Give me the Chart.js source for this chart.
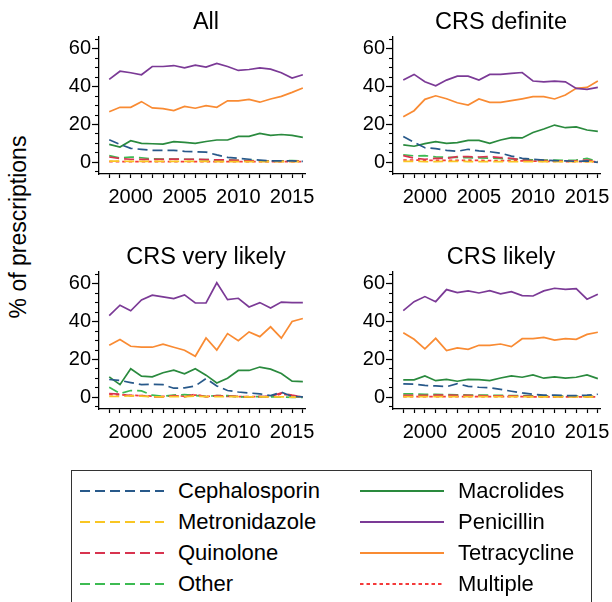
<!DOCTYPE html>
<html>
<head>
<meta charset="utf-8">
<script src="https://cdn.jsdelivr.net/npm/chart.js@4.4.1/dist/chart.umd.min.js"></script>
<style>
  html, body { margin: 0; padding: 0; background: #fff; }
  body { width: 612px; height: 602px; position: relative; overflow: hidden; font-family: "Liberation Sans", Arial, sans-serif; color: #000; }
  canvas.panel { position: absolute; }
  #ytitle { position: absolute; left: 17.5px; top: 226.5px; transform: translate(-50%, -50%) rotate(-90deg); font-size: 23px; white-space: nowrap; }
  #legend-box { position: absolute; left: 71px; top: 470px; width: 521px; height: 150px; border: 1.5px solid #333; box-sizing: border-box; }
  .leg-line { position: absolute; }
  .leg-text { position: absolute; font-size: 22px; line-height: 26px; white-space: nowrap; }
</style>
</head>
<body>
<canvas id="p-all" class="panel" width="332" height="235" style="left:40px;top:0px"></canvas>
<canvas id="p-definite" class="panel" width="334" height="235" style="left:334px;top:0px"></canvas>
<canvas id="p-vlikely" class="panel" width="332" height="235" style="left:40px;top:235px"></canvas>
<canvas id="p-likely" class="panel" width="334" height="235" style="left:334px;top:235px"></canvas>
<div id="ytitle">% of prescriptions</div>
<div id="legend-box"></div>
<div id="legend"></div>

<script>
// ---- data ----
const years = [1998, 1999, 2000, 2001, 2002, 2003, 2004, 2005, 2006, 2007, 2008, 2009, 2010, 2011, 2012, 2013, 2014, 2015, 2016];

const seriesNames = ['Cephalosporin', 'Metronidazole', 'Quinolone', 'Other', 'Macrolides', 'Penicillin', 'Tetracycline', 'Multiple'];
const seriesColors = ['#28598a', '#f9c623', '#d8344f', '#3dbb52', '#2a8a3e', '#7b3a96', '#f98b33', '#f43a3a'];
const seriesDash = [[10, 5], [10, 5], [10, 5], [10, 5], [], [], [], [3.5, 3]];

const panelTitles = ['All', 'CRS definite', 'CRS very likely', 'CRS likely'];
const yTicks = [0, 20, 40, 60];

// All
const allCeph  = [11.9, 9.5, 7.4, 6.8, 6.3, 6.3, 6.3, 5.8, 5.6, 5.4, 3.9, 2.6, 2.1, 1.6, 1.1, 0.7, 0.7, 0.7, 0.5];
const allMetro = [0.6, 0.6, 0.5, 0.5, 0.5, 0.5, 0.5, 0.5, 0.5, 0.5, 0.4, 0.4, 0.4, 0.3, 0.3, 0.3, 0.3, 0.3, 0.3];
const allQuin  = [2.8, 2.0, 1.6, 1.5, 1.5, 1.6, 1.7, 1.6, 1.6, 1.4, 1.3, 1.2, 1.0, 0.8, 0.6, 0.5, 0.5, 0.5, 0.6];
const allOther = [3.5, 2.3, 2.8, 2.4, 1.8, 1.7, 1.7, 1.6, 1.5, 1.4, 1.3, 1.2, 1.0, 0.9, 0.8, 0.7, 0.8, 0.9, 0.7];
const allMacro = [9.5, 8.1, 11.4, 10.0, 9.8, 9.6, 10.9, 10.5, 10.0, 11.0, 11.8, 11.8, 13.7, 13.7, 15.3, 14.2, 14.7, 14.2, 13.2];
const allPen   = [43.9, 48.2, 47.4, 46.3, 50.7, 50.7, 51.2, 50.0, 51.4, 50.4, 52.3, 50.7, 48.6, 49.1, 50.0, 49.3, 47.4, 44.6, 46.3];
const allTet   = [26.7, 29.1, 29.1, 32.1, 28.8, 28.4, 27.4, 29.6, 28.6, 30.0, 29.1, 32.5, 32.5, 33.3, 31.8, 33.5, 34.9, 37.0, 39.3];
const allMult  = [0.4, 0.4, 0.4, 0.4, 0.4, 0.4, 0.4, 0.4, 0.4, 0.4, 0.3, 0.3, 0.3, 0.3, 0.3, 0.3, 0.3, 0.3, 0.3];

// CRS definite
const defCeph  = [13.7, 10.6, 7.7, 7.2, 6.3, 5.8, 6.9, 6.0, 5.6, 4.8, 3.3, 2.1, 1.6, 1.2, 0.9, 0.7, 0.5, 0.7, 0.0];
const defMetro = [0.5, 0.5, 0.4, 0.4, 0.5, 0.5, 0.4, 0.4, 0.4, 0.4, 0.4, 0.3, 0.3, 0.3, 0.3, 0.3, 0.3, 0.3, 0.3];
const defQuin  = [3.5, 2.2, 1.6, 2.1, 2.1, 3.0, 3.0, 2.8, 3.0, 2.5, 2.1, 1.1, 0.9, 0.9, 0.8, 0.8, 0.9, 1.2, 0.2];
const defOther = [4.0, 3.4, 3.5, 2.9, 2.6, 2.6, 2.4, 2.3, 2.2, 2.0, 1.8, 1.5, 1.3, 1.2, 1.1, 1.0, 1.1, 2.1, 0.4];
const defMacro = [9.2, 8.5, 9.9, 10.9, 10.0, 10.4, 11.6, 11.6, 10.0, 11.8, 13.0, 12.9, 15.8, 17.6, 19.7, 18.3, 18.7, 17.1, 16.4];
const defPen   = [43.5, 46.5, 42.6, 40.5, 43.5, 45.6, 45.6, 43.5, 46.5, 46.5, 47.0, 47.5, 43.0, 42.6, 43.0, 42.6, 39.1, 38.6, 39.6];
const defTet   = [24.1, 27.3, 33.3, 35.2, 33.6, 31.5, 30.3, 33.5, 31.7, 31.7, 32.6, 33.6, 34.7, 34.7, 33.5, 35.6, 39.1, 39.6, 43.0];
const defMult  = [1.2, 1.2, 1.0, 1.0, 1.0, 1.0, 1.1, 1.0, 0.9, 0.9, 0.8, 0.7, 0.6, 0.5, 0.5, 0.4, 0.4, 0.4, 0.3];

// CRS very likely
const vlCeph  = [9.4, 8.9, 7.8, 6.7, 6.9, 6.7, 4.8, 5.0, 6.0, 9.9, 6.0, 3.6, 2.8, 2.3, 1.8, 0.9, 2.7, 0.4, 0.2];
const vlMetro = [0.5, 0.4, 0.8, 0.6, 0.3, 0.2, 0.4, 0.3, 0.6, 0.3, 0.4, 0.3, 0.3, 0.2, 0.2, 0.2, 0.2, 0.1, 0.1];
const vlQuin  = [2.0, 1.6, 0.9, 0.9, 0.2, 0.2, 0.9, 0.2, 1.6, 0.2, 0.9, 0.7, 0.5, 0.2, 0.4, 0.5, 2.3, 1.1, 0.2];
const vlOther = [5.3, 2.0, 3.6, 3.4, 1.1, 0.5, 1.2, 1.4, 0.9, 0.5, 0.9, 0.9, 0.2, 0.2, 0.4, 0.2, 0.2, 0.0, 0.0];
const vlMacro = [10.8, 6.7, 15.1, 11.2, 10.8, 13.0, 14.4, 12.4, 15.1, 11.7, 7.6, 10.1, 14.2, 14.2, 16.0, 14.9, 12.6, 8.5, 8.3];
const vlPen   = [43.2, 48.7, 45.8, 51.5, 54.0, 53.1, 52.2, 54.2, 49.9, 49.9, 60.6, 51.7, 52.4, 47.8, 50.1, 47.2, 50.4, 50.1, 50.1];
const vlTet   = [27.5, 30.6, 27.0, 26.5, 26.5, 28.1, 26.5, 24.9, 21.7, 31.4, 25.0, 33.7, 30.0, 34.6, 32.1, 37.3, 31.3, 40.1, 41.7];
const vlMult  = [1.5, 1.3, 1.0, 0.9, 0.6, 0.5, 0.8, 0.6, 1.2, 0.5, 0.6, 0.5, 0.4, 0.3, 0.3, 0.3, 1.8, 0.8, 0.2];

// CRS likely
const lkCeph  = [7.1, 6.9, 6.3, 6.0, 5.6, 7.2, 5.8, 5.3, 5.1, 4.2, 3.2, 2.3, 1.6, 1.1, 1.1, 0.9, 0.9, 1.1, 1.6];
const lkMetro = [0.3, 0.3, 0.3, 0.3, 0.3, 0.3, 0.3, 0.3, 0.3, 0.3, 0.3, 0.3, 0.2, 0.2, 0.2, 0.2, 0.2, 0.2, 0.2];
const lkQuin  = [1.0, 1.0, 1.0, 1.1, 1.2, 1.0, 1.0, 0.9, 0.8, 0.8, 0.7, 0.6, 0.5, 0.5, 0.4, 0.4, 0.4, 0.5, 0.3];
const lkOther = [1.8, 1.8, 1.6, 1.6, 1.4, 1.3, 1.2, 1.1, 1.1, 1.0, 0.9, 0.9, 0.8, 0.7, 0.7, 0.6, 0.6, 0.5, 0.5];
const lkMacro = [9.2, 9.2, 11.3, 8.8, 9.5, 8.5, 9.5, 9.3, 8.8, 10.2, 11.3, 10.6, 11.8, 10.1, 10.8, 10.1, 10.6, 11.8, 9.9];
const lkPen   = [45.9, 50.6, 53.3, 50.6, 57.0, 55.4, 56.3, 55.2, 56.4, 54.7, 55.9, 53.8, 53.6, 56.3, 57.7, 57.1, 57.5, 51.9, 54.5];
const lkTet   = [34.2, 30.7, 25.6, 31.2, 24.7, 26.1, 25.4, 27.5, 27.5, 28.2, 26.8, 31.0, 31.0, 31.7, 30.3, 31.0, 30.7, 33.3, 34.4];
const lkMult  = [0.3, 0.3, 0.3, 0.3, 0.3, 0.3, 0.3, 0.3, 0.3, 0.3, 0.3, 0.3, 0.2, 0.2, 0.2, 0.2, 0.2, 0.2, 0.2];

(function () {
  'use strict';

  const FONT = '"Liberation Sans", Arial, Helvetica, sans-serif';
  const Y_MIN = -6.2, Y_MAX = 66.3;

  // rightGap: empty space right of the plot so the full-width title sits where the reference has it
  const panels = [
    { id: 'p-all',      rightGap: 67, series: [allCeph, allMetro, allQuin, allOther, allMacro, allPen, allTet, allMult] },
    { id: 'p-definite', rightGap: 68, series: [defCeph, defMetro, defQuin, defOther, defMacro, defPen, defTet, defMult] },
    { id: 'p-vlikely',  rightGap: 67, series: [vlCeph, vlMetro, vlQuin, vlOther, vlMacro, vlPen, vlTet, vlMult] },
    { id: 'p-likely',   rightGap: 68, series: [lkCeph, lkMetro, lkQuin, lkOther, lkMacro, lkPen, lkTet, lkMult] }
  ];

  function buildDatasets(series) {
    return series.map((vals, i) => ({
      label: seriesNames[i],
      data: vals.map((v, k) => ({ x: years[k], y: v })),
      borderColor: seriesColors[i],
      borderDash: seriesDash[i],
      borderWidth: 1.7,
      pointRadius: 0,
      tension: 0,
      fill: false
    }));
  }

  function renderPanel(panel, idx) {
    const ctx = document.getElementById(panel.id);
    new Chart(ctx, {
      type: 'line',
      data: { datasets: buildDatasets(panel.series) },
      options: {
        responsive: false,
        animation: false,
        layout: { padding: 0 },
        plugins: {
          legend: { display: false },
          tooltip: { enabled: false },
          title: {
            display: true,
            text: panelTitles[idx],
            color: '#000',
            font: { family: FONT, size: 23.5, weight: 'normal' },
            padding: { top: 8.5, bottom: 0.3 }
          }
        },
        scales: {
          x: {
            type: 'linear',
            min: 1997.05,
            max: 2016.2,
            afterFit: s => { s.height = 61; },
            border: { color: '#000', width: 1.3 },
            grid: { drawOnChartArea: false, tickLength: 4, tickColor: '#000', tickWidth: 1.2 },
            ticks: {
              stepSize: 1,
              includeBounds: false,
              autoSkip: false,
              maxRotation: 0,
              padding: 7,
              color: '#000',
              font: { family: FONT, size: 20 },
              callback: v => (v % 5 === 0 ? String(v) : '')
            }
          },
          y: {
            position: 'left',
            weight: 1,
            min: Y_MIN,
            max: Y_MAX,
            afterFit: s => { s.width = 59; },
            border: { color: '#000', width: 1.3 },
            grid: { drawOnChartArea: false, tickLength: 7, tickColor: '#000', tickWidth: 1.2 },
            ticks: {
              stepSize: 20,
              includeBounds: false,
              padding: 1,
              color: '#000',
              font: { family: FONT, size: 20 },
              callback: v => (yTicks.includes(v) ? String(v) : '')
            }
          },
          yMinor: {
            position: 'left',
            weight: 0,
            min: Y_MIN,
            max: Y_MAX,
            afterFit: s => { s.width = 0; },
            border: { display: false },
            grid: { drawOnChartArea: false, tickLength: 4, tickColor: '#000', tickWidth: 1.1 },
            ticks: { display: false, stepSize: 5, includeBounds: false }
          },
          gap: {
            position: 'right',
            afterFit: s => { s.width = panel.rightGap; },
            border: { display: false },
            grid: { display: false },
            ticks: { display: false }
          }
        }
      }
    });
  }

  // ============= LEGEND =============

  function renderLegend() {
    const legend = document.getElementById('legend');
    const rowY = [491, 522, 553, 584];
    let html = '';
    seriesNames.forEach((name, i) => {
      const col = i < 4 ? 0 : 1;
      const row = i % 4;
      const lineX = col === 0 ? 80 : 360;
      const textX = col === 0 ? 178 : 458;
      const cy = rowY[row];
      const dash = seriesDash[i].length ? seriesDash[i].join(' ') : 'none';
      html += `<svg class="leg-line" width="84" height="6" style="left:${lineX}px;top:${cy - 3}px">
        <line x1="0" y1="3" x2="84" y2="3" stroke="${seriesColors[i]}" stroke-width="1.8" stroke-dasharray="${dash}"/></svg>`;
      html += `<div class="leg-text" style="left:${textX}px;top:${cy - 13}px">${name}</div>`;
    });
    legend.innerHTML = html;
  }

  panels.forEach(renderPanel);
  renderLegend();
})();
</script>
</body>
</html>
